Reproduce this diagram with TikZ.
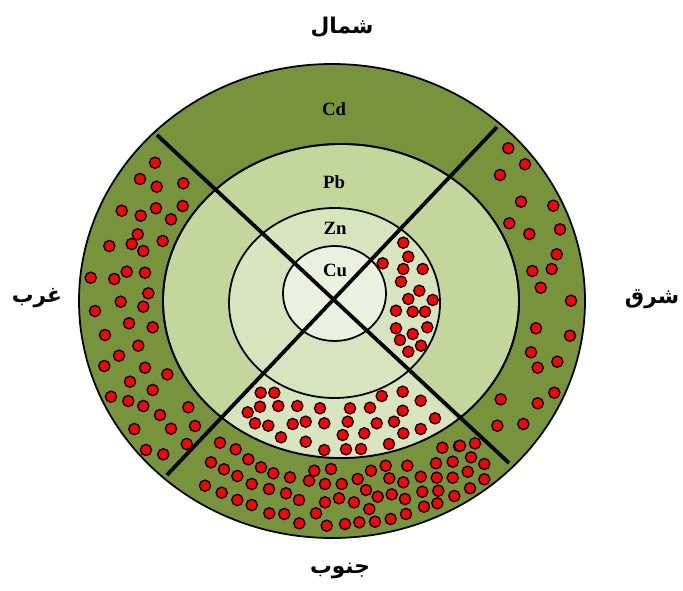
\documentclass[tikz,border=0pt]{standalone}
\usepackage{fontspec}
\setmainfont{Liberation Serif}
\newfontfamily\arabicfont[Script=Arabic]{DejaVu Sans}
\TeXXeTstate=1
\definecolor{cdgreen}{HTML}{77933C}
\definecolor{pbgreen}{HTML}{C3D69B}
\definecolor{zngreen}{HTML}{D7E4BD}
\definecolor{cugreen}{HTML}{EBF1DE}
\begin{document}
\begin{tikzpicture}[x=0.03cm,y=-0.03cm,
  ring/.style={draw=black,line width=1.5pt},
  reddot/.style={fill=red,draw=black,line width=1.1pt},
  diag/.style={draw=black,line width=3.2pt},
  metal/.style={font=\bfseries\fontsize{16}{18}\selectfont},
  dirlabel/.style={font=\arabicfont\bfseries\fontsize{18.5}{22}\selectfont}]
\useasboundingbox (0,0) rectangle (683,590);
% rings
\filldraw[ring,fill=cdgreen] (332,301) ellipse [x radius=253, y radius=237];
\filldraw[ring,fill=pbgreen] (341,301) ellipse [x radius=178, y radius=157];
\begin{scope}
  \clip (333,300) -- (140,500) -- (540,500) -- cycle;
  \fill[zngreen] (341,301) ellipse [x radius=178, y radius=157];
\end{scope}
\draw[ring] (341,301) ellipse [x radius=178, y radius=157];
\filldraw[ring,fill=zngreen] (334.5,303) ellipse [x radius=105.5, y radius=95];
\filldraw[ring,fill=cugreen] (334.5,293.5) ellipse [x radius=51.5, y radius=47.5];
% dots
\foreach \px/\py in {
 403.3/242.7,408.3/256.7,382.7/263.3,403.3/269,422.7/269,401/281.7,419.3/290.7,408.3/299,
 432.7/300,396/310.7,412.7/311.7,425/311.7,396/328.3,427.3/327.3,412.7/334,400/340,421/345.7,408.3/351.7,
 260.7/392.7,274.3/392.7,381.7/396,402.7/391.7,247.7/412.3,260/406.7,278.3/406,297.3/406,320/408.3,
 350/408.3,370/407.7,402.7/410.7,420.7/400.7,255/423.3,268.3/425.7,292.7/424,305.7/421.7,324.3/423.3,
 347.7/421.7,376.7/423.3,394/421.7,435/418.3,281/437.3,305.7/441.7,342.7/435,364.3/433.3,403.3/433.3,
 420.7/429,324.3/450,346/449.3,361/449,389/444,
 220/442.7,235.7/449.3,248.3/459.3,211/462.3,224/469.3,261/467.3,273.3/473.3,237.3/476,205/485.7,
 221.7/492.7,251.7/484,269/489,290/477.3,309/480.7,314.3/470.7,331/469,237.3/500,251.7/505,286/493.3,
 299/500,325/484,341.7/484,357.7/479,371/470.7,385.7/465.7,407.3/465.7,389.3/478.3,403.3/482.3,
 420.7/476.7,436/463.3,442.3/447.7,459/446,475/443.3,471/457.3,452.7/461.7,484.3/464,436.7/477.7,
 452.7/477.7,467.7/471.7,484.3/479.3,422.3/491.7,438.3/490.7,470/488.3,454.3/496,437.3/503.3,424/506.7,
 366/490,377.7/496.7,391.7/494.3,405/499,325/502.3,339/498.3,354/502.3,369.3/509,269.3/513.3,284.3/514,
 316/513.3,299.3/523.3,326.7/525.7,345/524,359.3/522.3,375/521.7,390.7/519,406/514,460/445.7,
 155/162.7,140/179,156.7/186.7,183.3/183.3,121.7/210.7,140.7/215.7,156/208.3,182.7/206,171/219.3,
 137.7/234.3,109.3/246,131.7/244,143.3/251,162.7/241,90.7/277.7,114.3/279,126.7/271.7,145/272.7,
 148.3/293.3,120.7/301.7,143.3/306.7,95/311,129/323.3,152.7/327.3,105/335,138.3/345.7,119/355.7,
 104.3/366,145/367.7,167.3/374.3,130/381.7,152.7/390,111/396.7,128.3/401,143.3/406,160/415,188.3/407.3,
 134.3/429,171/428.7,195/426,186.7/444,146/450,163.3/454.3,
 508.3/148.3,525/164.3,500/175,521/201.7,553.3/205.7,509.3/223.3,529.3/234,560/229.3,556.7/254.3,
 551.7/269,532.3/271,540.7/287.7,571/300.7,536/328.3,570/335.7,531/352.3,557.3/361.7,537.7/367.7,
 554.3/392.7,500.7/399.3,537.7/403.3,497.3/425.7,523.3/424}
  \filldraw[reddot] (\px,\py) circle [radius=5.6];
% diagonals
\coordinate (nw) at (157,135);
\coordinate (se) at (509,463);
\coordinate (ne) at (497,127);
\coordinate (sw) at (167,475);
\draw[diag] (nw) -- (se);
\draw[diag] (ne) -- (sw);
% labels
\node[metal] (cd) at (334,109) {Cd};
\node[metal] (pb) at (334,182) {Pb};
\node[metal] (zn) at (335,228) {Zn};
\node[metal] (cu) at (335,270) {Cu};
\node[dirlabel] (north) at (342,27) {\beginR شمال\endR};
\node[dirlabel] (west) at (37,298) {\beginR غرب\endR};
\node[dirlabel] (east) at (652,299) {\beginR شرق\endR};
\node[dirlabel] (south) at (340,571) {\beginR جنوب\endR};
\end{tikzpicture}
\end{document}
